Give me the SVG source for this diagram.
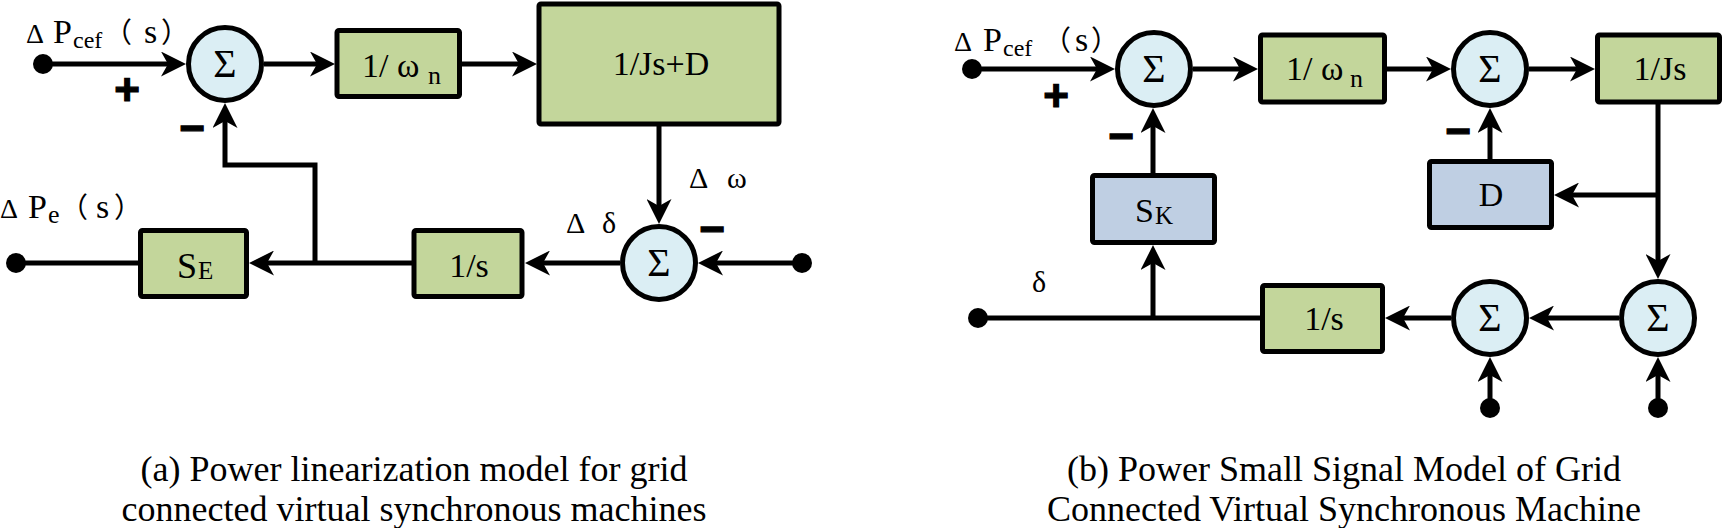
<svg xmlns="http://www.w3.org/2000/svg" width="1723" height="528" viewBox="0 0 1723 528">
<style>
.blk{stroke:#000;stroke-width:5;stroke-linejoin:round}
.g{fill:#C3D69B}
.b{fill:#BFCFE3}
.c{fill:#DBEEF4}
.w{fill:none;stroke:#000;stroke-width:5;stroke-linejoin:miter}
.dot{fill:#000}
.t{font-family:"Liberation Serif","Noto Sans CJK SC",serif;fill:#000}
.lab{font-size:34px}
.sub{font-size:26px}
.sum{font-size:40px;text-anchor:middle}
.sig{font-family:"Liberation Sans",sans-serif;font-weight:bold;font-size:44px;fill:#000;stroke:#000;stroke-width:1.2;text-anchor:middle}
.cap{font-size:36px;text-anchor:middle}
.mid{text-anchor:middle}
</style>
<defs>
<marker id="arr" markerUnits="userSpaceOnUse" viewBox="0 0 25 25" markerWidth="25" markerHeight="25" refX="17" refY="12.5" orient="auto">
<path d="M0,0 L25,12.5 L0,25 L7,12.5 Z" fill="#000"/>
</marker>
</defs>

<!-- connectors -->
<g id="connectors" class="w">
<path d="M43,64 H178" marker-end="url(#arr)"/>
<path d="M264,64 H327" marker-end="url(#arr)"/>
<path d="M462,64 H529" marker-end="url(#arr)"/>
<path d="M659,126 V216" marker-end="url(#arr)"/>
<path d="M802,263 H706" marker-end="url(#arr)"/>
<path d="M620,263 H533" marker-end="url(#arr)"/>
<path d="M412,263 H257" marker-end="url(#arr)"/>
<path d="M315,263 V165 H225 V111" marker-end="url(#arr)"/>
<path d="M16,263 H138"/>

<path d="M972,69 H1107" marker-end="url(#arr)"/>
<path d="M1193,69 H1250" marker-end="url(#arr)"/>
<path d="M1387,69 H1443" marker-end="url(#arr)"/>
<path d="M1529,69 H1587" marker-end="url(#arr)"/>
<path d="M1658,104 V271" marker-end="url(#arr)"/>
<path d="M1658,195 H1562" marker-end="url(#arr)"/>
<path d="M1490,159 V116" marker-end="url(#arr)"/>
<path d="M1153,173 V116" marker-end="url(#arr)"/>
<path d="M1619,318 H1537" marker-end="url(#arr)"/>
<path d="M1451,318 H1393" marker-end="url(#arr)"/>
<path d="M1260,318 H978"/>
<path d="M1153,318 V253" marker-end="url(#arr)"/>
<path d="M1490,408 V365" marker-end="url(#arr)"/>
<path d="M1658,408 V365" marker-end="url(#arr)"/>
</g>

<!-- terminals -->
<g id="terminals" class="dot">
<circle cx="43" cy="64" r="10"/>
<circle cx="802" cy="263" r="10"/>
<circle cx="16" cy="263" r="10"/>
<circle cx="972" cy="69" r="10"/>
<circle cx="978" cy="318" r="10"/>
<circle cx="1490" cy="408" r="10"/>
<circle cx="1658" cy="408" r="10"/>
</g>

<!-- left diagram nodes -->
<g id="sum1"><circle class="blk c" cx="225" cy="64" r="36.5"/><text class="t sum" x="225" y="77">Σ</text></g>
<g id="wn1"><rect class="blk g" x="337" y="30.5" width="122.5" height="66" rx="2"/><text class="t lab"><tspan x="362" y="77">1/ ω</tspan><tspan x="428" y="84" class="sub">n</tspan></text></g>
<g id="jsd"><rect class="blk g" x="539" y="4" width="240" height="120" rx="2"/><text class="t lab mid" x="661" y="75">1/Js+D</text></g>
<g id="sum2"><circle class="blk c" cx="659" cy="263" r="36.5"/><text class="t sum" x="659" y="276">Σ</text></g>
<g id="integ1"><rect class="blk g" x="414" y="230.5" width="108" height="66" rx="2"/><text class="t lab mid" x="469" y="277">1/s</text></g>
<g id="se"><rect class="blk g" x="140.5" y="230.5" width="106" height="66" rx="2"/><text class="t"><tspan x="177" y="278" font-size="36">S</tspan><tspan x="198" y="279" font-size="25">E</tspan></text></g>

<g id="labels-left">
<text class="t"><tspan x="26" y="43" font-size="28">Δ</tspan><tspan x="53" y="43" font-size="34">P</tspan><tspan x="73" y="48" font-size="24">cef</tspan><tspan x="104" y="43" font-size="28">（</tspan><tspan x="144" y="43" font-size="34">s</tspan><tspan x="161" y="43" font-size="28">）</tspan></text>
<text class="t"><tspan x="0" y="218" font-size="28">Δ</tspan><tspan x="28" y="218" font-size="34">P</tspan><tspan x="48" y="223" font-size="26">e</tspan><tspan x="60" y="218" font-size="28">（</tspan><tspan x="96" y="218" font-size="34">s</tspan><tspan x="114" y="218" font-size="28">）</tspan></text>
<text class="t" font-size="30"><tspan x="689" y="188">Δ</tspan><tspan x="727" y="188">ω</tspan></text>
<text class="t" font-size="30"><tspan x="566" y="233">Δ</tspan><tspan x="602" y="233">δ</tspan></text>
<text class="sig" x="127" y="105">+</text>
<text class="sig" x="192" y="143">−</text>
<text class="sig" x="712" y="244">−</text>
</g>

<!-- right diagram nodes -->
<g id="sum3"><circle class="blk c" cx="1154" cy="69" r="36.5"/><text class="t sum" x="1154" y="82">Σ</text></g>
<g id="wn2"><rect class="blk g" x="1260.5" y="35" width="124" height="67" rx="2"/><text class="t lab"><tspan x="1286" y="80">1/ ω</tspan><tspan x="1350" y="87" class="sub">n</tspan></text></g>
<g id="sum4"><circle class="blk c" cx="1490" cy="69" r="36.5"/><text class="t sum" x="1490" y="82">Σ</text></g>
<g id="js"><rect class="blk g" x="1597.5" y="35" width="122" height="67" rx="2"/><text class="t lab mid" x="1660" y="80">1/Js</text></g>
<g id="d"><rect class="blk b" x="1429.5" y="161.5" width="122" height="66" rx="2"/><text class="t mid" font-size="34" x="1491" y="206">D</text></g>
<g id="sk"><rect class="blk b" x="1092.5" y="175.5" width="122" height="67" rx="2"/><text class="t"><tspan x="1135" y="222" font-size="34">S</tspan><tspan x="1155" y="224" font-size="25">K</tspan></text></g>
<g id="sum5"><circle class="blk c" cx="1658" cy="318" r="36.5"/><text class="t sum" x="1658" y="331">Σ</text></g>
<g id="sum6"><circle class="blk c" cx="1490" cy="318" r="36.5"/><text class="t sum" x="1490" y="331">Σ</text></g>
<g id="integ2"><rect class="blk g" x="1262.5" y="285.5" width="120" height="66" rx="2"/><text class="t lab mid" x="1324" y="330">1/s</text></g>

<g id="labels-right">
<text class="t"><tspan x="954" y="51" font-size="28">Δ</tspan><tspan x="983" y="51" font-size="34">P</tspan><tspan x="1003" y="56" font-size="24">cef</tspan><tspan x="1043" y="51" font-size="28">（</tspan><tspan x="1075" y="51" font-size="34">s</tspan><tspan x="1091" y="51" font-size="28">）</tspan></text>
<text class="t" font-size="30" x="1032" y="292">δ</text>
<text class="sig" x="1056" y="111">+</text>
<text class="sig" x="1121" y="151">−</text>
<text class="sig" x="1458" y="146">−</text>
</g>

<g id="captions">
<text class="t cap"><tspan x="414" y="481">(a) Power linearization model for grid</tspan><tspan x="414" y="521">connected virtual synchronous machines</tspan></text>
<text class="t cap"><tspan x="1344" y="481">(b) Power Small Signal Model of Grid</tspan><tspan x="1344" y="521">Connected Virtual Synchronous Machine</tspan></text>
</g>
</svg>
